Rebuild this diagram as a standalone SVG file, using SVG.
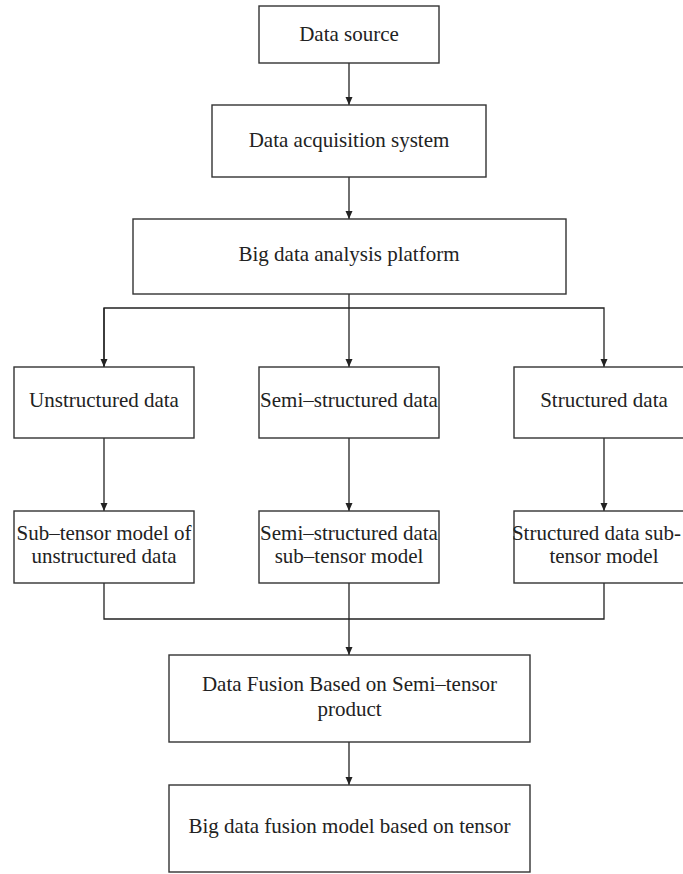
<svg xmlns="http://www.w3.org/2000/svg" width="683" height="874" viewBox="0 0 683 874">
<style>
.box{fill:#fff;stroke:#333;stroke-width:1.4}
.t{font-family:"Liberation Serif","Times New Roman",serif;font-size:21px;fill:#222;text-anchor:middle}
.c{fill:none;stroke:#222;stroke-width:1.3}
</style>
<defs>
<marker id="arr" markerUnits="userSpaceOnUse" markerWidth="8" markerHeight="8" refX="8" refY="4" orient="auto" viewBox="0 0 8 8">
<path d="M0,0.5 L8,4 L0,7.5 Z" fill="#222"/>
</marker>
</defs>
<rect width="683" height="874" fill="#fff"/>
<g id="connectors">
<path class="c" d="M349,63 V105" marker-end="url(#arr)"/>
<path class="c" d="M349,177 V219" marker-end="url(#arr)"/>
<path class="c" d="M349,294 V367" marker-end="url(#arr)"/>
<path class="c" d="M104,367 V308 H604 V367" marker-end="url(#arr)"/>
<path class="c" d="M104,308 V367" marker-end="url(#arr)"/>
<path class="c" d="M104,438 V511" marker-end="url(#arr)"/>
<path class="c" d="M349,438 V511" marker-end="url(#arr)"/>
<path class="c" d="M604,438 V511" marker-end="url(#arr)"/>
<path class="c" d="M104,583 V619 H604 V583"/>
<path class="c" d="M349,583 V655" marker-end="url(#arr)"/>
<path class="c" d="M349,742 V785" marker-end="url(#arr)"/>
</g>
<g id="n1"><rect class="box" x="259" y="6" width="180" height="57"/><text class="t" x="349" y="41">Data source</text></g>
<g id="n2"><rect class="box" x="212" y="105" width="274" height="72"/><text class="t" x="349" y="147">Data acquisition system</text></g>
<g id="n3"><rect class="box" x="133" y="219" width="433" height="75"/><text class="t" x="349" y="261">Big data analysis platform</text></g>
<g id="n4"><rect class="box" x="14" y="367" width="180" height="71"/><text class="t" x="104" y="407">Unstructured data</text></g>
<g id="n5"><rect class="box" x="259" y="367" width="180" height="71"/><text class="t" x="349" y="407">Semi–structured data</text></g>
<g id="n6"><rect class="box" x="514" y="367" width="180" height="71"/><text class="t" x="604" y="407">Structured data</text></g>
<g id="n7"><rect class="box" x="14" y="511" width="180" height="72"/><text class="t" x="104" y="540">Sub–tensor model of</text><text class="t" x="104" y="563">unstructured data</text></g>
<g id="n8"><rect class="box" x="259" y="511" width="180" height="72"/><text class="t" x="349" y="540">Semi–structured data</text><text class="t" x="349" y="563">sub–tensor model</text></g>
<g id="n9"><rect class="box" x="514" y="511" width="180" height="72"/><text class="t" x="681" y="540" style="text-anchor:end">Structured data sub-</text><text class="t" x="604" y="563">tensor model</text></g>
<g id="n10"><rect class="box" x="169" y="655" width="361" height="87"/><text class="t" x="349.5" y="691">Data Fusion Based on Semi–tensor</text><text class="t" x="349.5" y="716">product</text></g>
<g id="n11"><rect class="box" x="169" y="785" width="361" height="87"/><text class="t" x="349.5" y="833">Big data fusion model based on tensor</text></g>
</svg>
